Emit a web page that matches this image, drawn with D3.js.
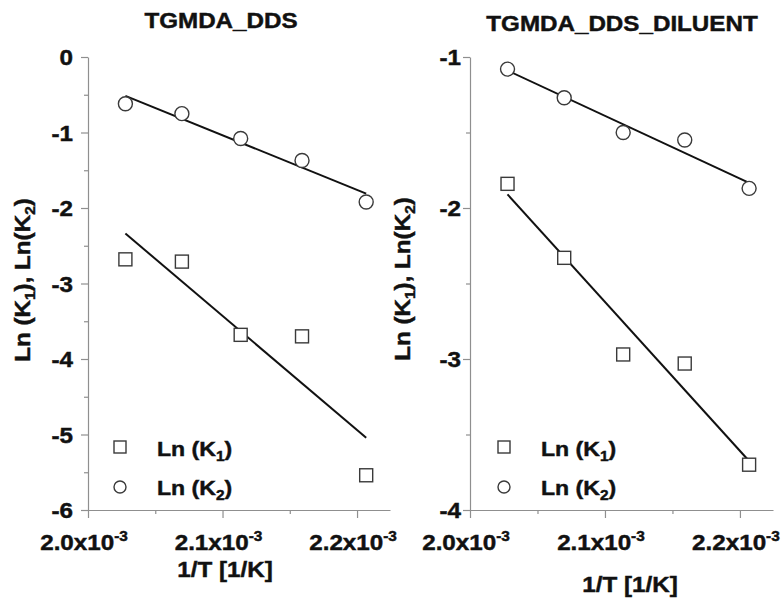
<!DOCTYPE html>
<meta charset="utf-8">
<style>
  body { margin: 0; background: #fff; }
  text { font-family: "Liberation Sans", Arial, sans-serif; font-weight: bold; fill: #111; stroke: #111; stroke-width: 0.45px; }
  .axis path, .axis line { stroke: #8f8f8f; stroke-width: 1.2px; }
  .fit { fill: none; stroke: #111; stroke-width: 2px; }
  .mark { fill: #fff; stroke: #3a3a3a; stroke-width: 1.4px; }
</style>
<svg width="782" height="601"></svg>
<script src="https://d3js.org/d3.v7.min.js"></script>
<script>
  // 1/T for the five cure temperatures
  var invT = [0.0020278, 0.0020698, 0.0021135, 0.0021591, 0.0022068];

  var ddsK1 = [-2.68, -2.71, -3.68, -3.70, -5.54];
  var ddsK2 = [-0.62, -0.75, -1.08, -1.37, -1.92];
  var dilK1 = [-1.84, -2.33, -2.97, -3.03, -3.70];
  var dilK2 = [-1.08, -1.27, -1.50, -1.55, -1.87];

  var xMajor = [0.0020, 0.0021, 0.0022];
  var xMinor = [0.00205, 0.00215];
  var xLabels = ["2.0x10", "2.1x10", "2.2x10"];

  var panels = [
    { title: "TGMDA_DDS", k1: ddsK1, k2: ddsK2, yDomain: [-6, 0],
      yMajor: [-6, -5, -4, -3, -2, -1, 0], yMinor: [-5.5, -4.5, -3.5, -2.5, -1.5, -0.5],
      x0: 88, x1: 390, titleX: 221, titleY: 28, labelRight: 73, yTitleX: 30, yTitleY: 280,
      xTitleX: 225, xTitleY: 577, legX: 120 },
    { title: "TGMDA_DDS_DILUENT", k1: dilK1, k2: dilK2, yDomain: [-4, -1],
      yMajor: [-4, -3, -2, -1], yMinor: [-3.5, -2.5, -1.5],
      x0: 470, x1: 773, titleX: 622, titleY: 31, labelRight: 461, yTitleX: 410, yTitleY: 279,
      xTitleX: 630, xTitleY: 592, legX: 504 }
  ];

  var svg = d3.select("svg");
  var SX = 1.1; // the source lettering is wider than Arial
  var FS = 22;

  function fit(xs, ys) {
    var mx = d3.mean(xs), my = d3.mean(ys);
    var num = d3.sum(xs, function(x, i) { return (x - mx) * (ys[i] - my); });
    var den = d3.sum(xs, function(x) { return (x - mx) * (x - mx); });
    var b = num / den;
    return function(x) { return my + b * (x - mx); };
  }

  function square(g, cx, cy, s) {
    g.append("rect").attr("class", "mark")
      .attr("x", cx - s / 2).attr("y", cy - s / 2)
      .attr("width", s).attr("height", s);
  }

  panels.forEach(function(p) {
    var x = d3.scaleLinear().domain([0.0020, 0.0022245]).range([p.x0, p.x1]);
    var y = d3.scaleLinear().domain(p.yDomain).range([510, 57]);
    var g = svg.append("g");

    // title
    g.append("text")
      .attr("transform", "translate(" + p.titleX + "," + p.titleY + ") scale(" + SX + ",1)")
      .attr("text-anchor", "middle").attr("font-size", FS).text(p.title);

    // y axis
    var ya = g.append("g").attr("class", "axis").attr("transform", "translate(" + p.x0 + ",0)")
      .call(d3.axisLeft(y).tickValues(p.yMajor).tickSize(7).tickSizeOuter(0));
    ya.selectAll("text").remove();
    g.append("g").attr("class", "axis").attr("transform", "translate(" + p.x0 + ",0)")
      .call(d3.axisLeft(y).tickValues(p.yMinor).tickSize(4).tickFormat(""))
      .select(".domain").remove();
    p.yMajor.forEach(function(v) {
      g.append("text")
        .attr("transform", "translate(" + p.labelRight + "," + (y(v) + 8) + ") scale(" + SX + ",1)")
        .attr("text-anchor", "end").attr("font-size", FS).text(String(v));
    });

    // x axis
    var xa = g.append("g").attr("class", "axis").attr("transform", "translate(0,510)")
      .call(d3.axisBottom(x).tickValues(xMajor).tickSize(8).tickSizeOuter(0));
    xa.selectAll("text").remove();
    g.append("g").attr("class", "axis").attr("transform", "translate(0,510)")
      .call(d3.axisBottom(x).tickValues(xMinor).tickSize(4).tickFormat(""))
      .select(".domain").remove();
    xMajor.forEach(function(v, i) {
      var t = g.append("text")
        .attr("transform", "translate(" + (x(v) - 4) + ",550) scale(" + SX + ",1)")
        .attr("text-anchor", "middle").attr("font-size", FS);
      t.append("tspan").text(xLabels[i]);
      t.append("tspan").attr("font-size", 14).attr("dy", -9).text("-3");
    });

    // axis titles
    g.append("text")
      .attr("transform", "translate(" + p.xTitleX + "," + p.xTitleY + ") scale(" + SX + ",1)")
      .attr("text-anchor", "middle").attr("font-size", FS).text("1/T [1/K]");
    var yt = g.append("text")
      .attr("transform", "translate(" + p.yTitleX + "," + p.yTitleY + ") rotate(-90) scale(" + SX + ",1)")
      .attr("text-anchor", "middle").attr("font-size", FS);
    yt.append("tspan").text("Ln (K");
    yt.append("tspan").attr("font-size", 14).attr("dy", 5).text("1");
    yt.append("tspan").attr("dy", -5).text("), Ln(K");
    yt.append("tspan").attr("font-size", 14).attr("dy", 5).text("2");
    yt.append("tspan").attr("dy", -5).text(")");

    // fit lines
    [p.k1, p.k2].forEach(function(ys) {
      var f = fit(invT, ys);
      var x0 = invT[0], x1 = invT[invT.length - 1];
      g.append("line").attr("class", "fit")
        .attr("x1", x(x0)).attr("y1", y(f(x0)))
        .attr("x2", x(x1)).attr("y2", y(f(x1)));
    });

    // points
    invT.forEach(function(v, i) {
      square(g, x(v), y(p.k1[i]), 13);
      g.append("circle").attr("class", "mark")
        .attr("cx", x(v)).attr("cy", y(p.k2[i])).attr("r", 7);
    });

    // legend
    square(g, p.legX, 447, 12);
    g.append("circle").attr("class", "mark").attr("cx", p.legX).attr("cy", 487).attr("r", 6);
    [["1", 456], ["2", 495]].forEach(function(l) {
      var t = g.append("text")
        .attr("transform", "translate(" + (p.legX + 37) + "," + l[1] + ") scale(" + SX + ",1)")
        .attr("font-size", 21);
      t.append("tspan").text("Ln (K");
      t.append("tspan").attr("font-size", 14).attr("dy", 5).text(l[0]);
      t.append("tspan").attr("dy", -5).text(")");
    });
  });
</script>
